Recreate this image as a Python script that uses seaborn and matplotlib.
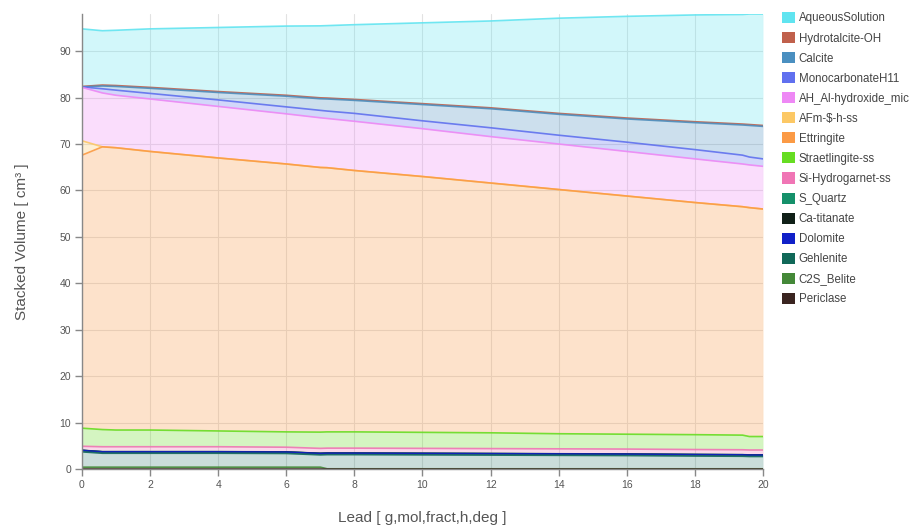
import numpy as np
import matplotlib
matplotlib.use("Agg")
import matplotlib.pyplot as plt
from matplotlib.patches import Patch
import seaborn as sns

# x values (Lead) where the phase volumes were read
lead = [0, 0.6, 1, 2, 4, 6, 7, 7.2, 8, 10, 12, 14, 16, 18, 19.4, 19.6, 20]

# phase volumes in cm3, bottom of the stack first
periclase = [0.05] * 17
c2s_belite = [0.35, 0.35, 0.35, 0.35, 0.35, 0.35, 0.35, 0, 0, 0, 0, 0, 0, 0, 0, 0, 0]
gehlenite = [3.3, 3.0, 3.0, 3.0, 3.0, 2.95, 2.65, 3.05, 3.05, 3.0, 2.95, 2.9, 2.85, 2.75, 2.7, 2.65, 2.65]
dolomite = [0.3] * 17
ca_titanate = [0.02] * 17
s_quartz = [0.02] * 17
si_hydrogarnet = [0.86, 1.06, 1.06, 1.06, 1.06, 1.01, 1.06, 1.06, 1.06, 1.06, 1.06, 1.06, 1.06, 1.06, 1.06, 1.06, 1.06]
straetlingite = [3.9, 3.7, 3.6, 3.6, 3.4, 3.3, 3.5, 3.5, 3.5, 3.45, 3.4, 3.25, 3.2, 3.2, 3.15, 2.9, 2.9]
ettringite = [58.8, 60.9, 60.8, 60.0, 58.8, 57.7, 57.0, 56.9, 56.3, 55.1, 53.8, 52.6, 51.3, 50.0, 49.2, 49.3, 49.0]
afm_s_h = [3.1, 0, 0, 0, 0, 0, 0, 0, 0, 0, 0, 0, 0, 0, 0, 0, 0]
ah_al_hydroxide = [11.5, 11.6, 11.3, 11.3, 11.1, 10.8, 10.7, 10.6, 10.6, 10.3, 10.0, 9.8, 9.6, 9.4, 9.2, 9.2, 9.2]
monocarbonate = [0.1, 0.9, 1.1, 1.2, 1.4, 1.5, 1.6, 1.6, 1.7, 1.7, 1.9, 1.9, 2.0, 2.0, 1.9, 1.7, 1.6]
calcite = [0.0, 0.6, 0.8, 1.1, 1.6, 2.3, 2.5, 2.6, 2.8, 3.5, 4.1, 4.5, 5.0, 5.8, 6.5, 6.8, 7.0]
hydrotalcite = [0.1, 0.2, 0.2, 0.2, 0.2, 0.2, 0.2, 0.2, 0.2, 0.2, 0.2, 0.2, 0.2, 0.2, 0.2, 0.2, 0.2]
aqueous = [12.4, 11.7, 11.9, 12.6, 13.8, 14.9, 15.5, 15.6, 16.1, 17.4, 18.7, 20.5, 21.9, 23.0, 23.6, 23.8, 24.0]

names = ["Periclase", "C2S_Belite", "Gehlenite", "Dolomite", "Ca-titanate", "S_Quartz",
         "Si-Hydrogarnet-ss", "Straetlingite-ss", "Ettringite", "AFm-$-h-ss",
         "AH_Al-hydroxide_mic", "MonocarbonateH11", "Calcite", "Hydrotalcite-OH",
         "AqueousSolution"]
volumes = [periclase, c2s_belite, gehlenite, dolomite, ca_titanate, s_quartz,
           si_hydrogarnet, straetlingite, ettringite, afm_s_h, ah_al_hydroxide,
           monocarbonate, calcite, hydrotalcite, aqueous]
colors = ["#3a2420", "#448838", "#106858", "#1020c8", "#102018", "#15906a",
          "#f075b5", "#66dd22", "#fb9a45", "#fcc865", "#ee88f5", "#6070ef",
          "#4a8fc0", "#c0604c", "#60e4f0"]
fill_alpha = [0.28] * 15
fill_alpha[2] = 0.22

sns.set_theme(style="whitegrid")
plt.rcParams["font.family"] = ["Liberation Sans", "DejaVu Sans"]

fig = plt.figure(figsize=(9.13, 5.27), dpi=100)
ax = fig.add_axes([0.0898, 0.110, 0.7459, 0.8634])

x = np.array(lead)
tops = np.cumsum(np.array(volumes), axis=0)
bottoms = np.vstack([np.zeros(len(x)), tops[:-1]])

for i in range(len(names)):
    ax.fill_between(x, bottoms[i], tops[i], color=colors[i], alpha=fill_alpha[i], lw=0)

# boundary lines, upper phases first so lower ones sit on top
for i in reversed(range(len(names))):
    sns.lineplot(x=x, y=tops[i], ax=ax, color=colors[i], lw=1.2, alpha=0.9)

ax.set_xlim(0, 20)
ax.set_ylim(0, tops[-1].max())
ax.set_xticks(range(0, 21, 2))
ax.set_yticks(range(0, 91, 10))
ax.grid(True, color="#e2e2e2", lw=0.8)
ax.set_facecolor("white")
for side in ["top", "right"]:
    ax.spines[side].set_visible(False)
for side in ["left", "bottom"]:
    ax.spines[side].set_visible(True)
    ax.spines[side].set_color("#888888")
    ax.spines[side].set_linewidth(1.0)
ax.tick_params(axis="both", which="major", direction="out", length=5, width=1,
               color="#888888", labelsize=7.5, labelcolor="#555555", pad=3, bottom=True, left=True)

ax.set_xlabel("Lead [ g,mol,fract,h,deg ]", fontsize=11, color="#555555", labelpad=15)
ax.set_ylabel("Stacked Volume [ cm³ ]", fontsize=11, color="#555555", labelpad=22)

handles = [Patch(facecolor=colors[i], edgecolor="none", label=names[i])
           for i in reversed(range(len(names)))]
fig.legend(handles=handles, loc="upper left", bbox_to_anchor=(782 / 913, 1 - 12 / 527),
           frameon=False, fontsize=8.3, labelspacing=0.66, handlelength=1.1,
           handleheight=1.1, handletextpad=0.35, borderpad=0, borderaxespad=0,
           labelcolor="#444444")

fig.savefig("out.png", dpi=100)
